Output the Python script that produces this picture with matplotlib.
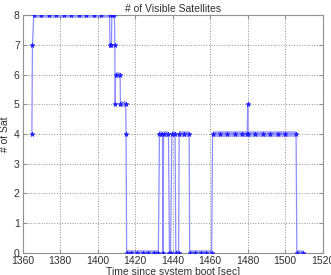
import matplotlib
matplotlib.use('Agg')
from matplotlib import pyplot as plt

# samples: time [sec] and number of visible satellites
time_sec = [1365.0, 1365.3, 1366.0, 1370, 1374, 1378, 1382, 1386, 1390, 1394, 1398, 1402, 1406.4,
            1406.6, 1407.4, 1407.6, 1409.0, 1409.2, 1409.4, 1409.6, 1412.0, 1412.2, 1415.0,
            1415.2, 1415.5, 1418, 1421, 1424, 1427, 1430, 1432.4,
            1433.0, 1434.6, 1434.8, 1435.2, 1437.8, 1438.3, 1438.9, 1439.6, 1441.3, 1441.7,
            1443.2, 1443.5, 1446.0, 1448.8, 1449.1, 1452, 1455, 1458, 1460.8,
            1461.3, 1465, 1469, 1473, 1477, 1479.8, 1480.0, 1480.2, 1484, 1488, 1492, 1496,
            1500, 1505.8, 1506.2, 1509.3]
num_sat = [4, 7, 8, 8, 8, 8, 8, 8, 8, 8, 8, 8, 8,
           7, 7, 8, 8, 7, 5, 6, 6, 5, 5,
           4, 0, 0, 0, 0, 0, 0, 0,
           4, 4, 0, 4, 4, 0, 0, 4, 4, 0,
           0, 4, 4, 4, 0, 0, 0, 0, 0,
           4, 4, 4, 4, 4, 4, 5, 4, 4, 4, 4, 4,
           4, 4, 0, 0]

x_ticks = [1360, 1380, 1400, 1420, 1440, 1460, 1480, 1500, 1520]
y_ticks = [0, 1, 2, 3, 4, 5, 6, 7, 8]


def main():
    plt.rcParams['font.family'] = ['Liberation Sans', 'DejaVu Sans']
    fig = plt.figure(figsize=(3.31, 2.75), dpi=100)
    ax = fig.add_axes([0.068, 0.081, 0.907, 0.864])

    # thick bands where the count stays the same
    for i in range(len(time_sec) - 1):
        if num_sat[i] == num_sat[i + 1]:
            ax.plot([time_sec[i], time_sec[i + 1]], [num_sat[i], num_sat[i + 1]],
                    color='#7878ff', lw=4, alpha=0.7, solid_capstyle='butt', zorder=2)
    ax.plot(time_sec, num_sat, color='#8c8cff', lw=0.9, zorder=3)
    ax.plot(time_sec, num_sat, ls='none', marker='*', ms=3.5, color='#1e1eff',
            markeredgewidth=0.5, zorder=4)

    ax.set_xlim(1360, 1520)
    ax.set_ylim(0, 8)
    ax.set_xticks(x_ticks)
    ax.set_yticks(y_ticks)
    ax.tick_params(direction='in', length=3, labelsize=7.5, colors='#303030',
                   top=True, right=True, pad=2)
    ax.tick_params(axis='both', color='#909090')
    ax.grid(True, ls=':', color='#909090', lw=0.7)
    for spine in ax.spines.values():
        spine.set_color('#909090')
        spine.set_linewidth(0.8)

    ax.set_title('# of Visible Satellites', fontsize=7.5, pad=2, color='#303030')
    ax.set_xlabel('Time since system boot [sec]', fontsize=7.5, labelpad=1, color='#303030')
    ax.set_ylabel('# of Sat', fontsize=7.5, labelpad=3, color='#303030')

    fig.savefig('out.png', dpi=100)


if __name__ == '__main__':
    main()
